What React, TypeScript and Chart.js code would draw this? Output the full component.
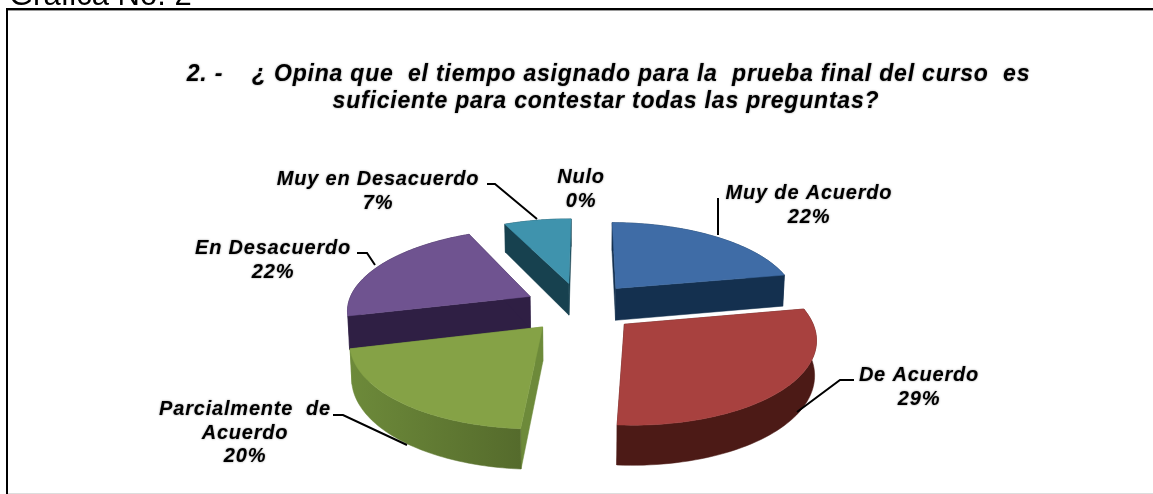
import React, { useEffect, useRef } from "react";
import { Chart, registerables } from "chart.js";

Chart.register(...registerables);

const categories = ["Muy de Acuerdo", "De Acuerdo", "Parcialmente de Acuerdo", "En Desacuerdo", "Muy en Desacuerdo", "Nulo"];
const percentages = [22, 29, 20, 22, 7, 0];
const topColors = ["#3f6ca6", "#a8413f", "#85a246", "#6f5390", "#3f93ad", "#3f93ad"];
const sideColors = ["#14304f", "#4c1a16", "#6d8a3a", "#2f1f44", "#17414f", "#17414f"];
const wallEndColors = ["#14304f", "#4c1a16", "#556b2c", "#2f1f44", "#17414f", "#17414f"];
const titleLines = [
  "2. -    ¿ Opina que  el tiempo asignado para la  prueba final del curso  es",
  "suficiente para contestar todas las preguntas?",
];
const caption = "Gráfica No. 2";
const labelLines = [["Muy de Acuerdo"], ["De Acuerdo"], ["Parcialmente  de", "Acuerdo"], ["En Desacuerdo"], ["Muy en Desacuerdo"], ["Nulo"]];
const labelAnchors = [[809, 192], [919, 374], [245, 408], [273, 247], [378, 178], [581, 176]];
const leaders = [
  [[718, 198], [718, 235]],
  [[854, 380], [840, 380], [797, 412]],
  [[333, 415], [343, 415], [407, 445]],
  [[357, 253], [367, 253], [375, 265]],
  [[487, 184], [495, 184], [537, 219]],
];
const FONT = '"Liberation Sans", Arial, sans-serif';
const TILT = 0.44;
const CAMERA = 6.8;
const DEPTH = 33;

const pie3d = {
  id: "pie3d",
  beforeDatasetDraw(chart: any) {
    const ctx = chart.ctx as CanvasRenderingContext2D;
    const arcs = chart.getDatasetMeta(0).data as any[];
    const parts = arcs.map((arc, i) => ({ arc, i, mid: (arc.startAngle + arc.endAngle) / 2 }));
    const R = arcs[0].outerRadius;
    const cx = arcs[0].x;
    const cy = arcs[0].y;
    const proj = (u: number, v: number, z: number) => {
      const s = CAMERA / (CAMERA - v / R);
      return [cx + u * s * (z ? 0.992 : 1), cy + TILT * v * s + z * s] as [number, number];
    };
    const poly = (pts: [number, number][], fill: any) => {
      ctx.beginPath();
      pts.forEach((p, k) => (k ? ctx.lineTo(p[0], p[1]) : ctx.moveTo(p[0], p[1])));
      ctx.closePath();
      ctx.fillStyle = fill;
      ctx.strokeStyle = fill;
      ctx.lineWidth = 0.5;
      ctx.fill();
      ctx.stroke();
    };
    parts
      .filter((p) => p.arc.circumference > 0)
      .sort((a, b) => Math.sin(a.mid) - Math.sin(b.mid))
      .forEach(({ arc, i, mid }) => {
        const off = arc.options.offset || 0;
        const ax = off * Math.cos(mid);
        const ay = off * Math.sin(mid);
        const rim = (a: number, z: number) => proj(ax + R * Math.cos(a), ay + R * Math.sin(a), z);
        const steps = 60;
        const angles: number[] = [];
        for (let k = 0; k <= steps; k++) angles.push(arc.startAngle + ((arc.endAngle - arc.startAngle) * k) / steps);
        const topRim = angles.map((a) => rim(a, 0));
        const lowRim = angles.map((a) => rim(a, DEPTH));
        const apexTop = proj(ax, ay, 0);
        const apexLow = proj(ax, ay, DEPTH);
        poly([apexTop, topRim[0], lowRim[0], apexLow], sideColors[i]);
        poly([apexTop, topRim[steps], lowRim[steps], apexLow], sideColors[i]);
        const xs = topRim.map((p) => p[0]);
        const grad = ctx.createLinearGradient(Math.min(...xs), 0, Math.max(...xs), 0);
        grad.addColorStop(0, i === 2 ? sideColors[i] : wallEndColors[i]);
        grad.addColorStop(1, wallEndColors[i]);
        poly([...topRim, ...lowRim.slice().reverse()], grad);
        poly([apexTop, ...topRim], arc.options.backgroundColor);
      });
    return false;
  },
};

const annotations = {
  id: "annotations",
  afterDraw(chart: any) {
    const ctx = chart.ctx as CanvasRenderingContext2D;
    ctx.save();
    ctx.fillStyle = "#9a9a9a";
    ctx.fillRect(8, 10, 1145, 1);
    ctx.fillStyle = "#000";
    ctx.fillRect(6, 8, 1147, 2);
    ctx.fillRect(6, 8, 2, 486);
    ctx.fillStyle = "#dddddd";
    ctx.fillRect(8, 493, 1145, 1);

    ctx.fillStyle = "#000";
    ctx.strokeStyle = "#000";
    ctx.textBaseline = "alphabetic";
    ctx.textAlign = "left";
    ctx.font = `31px ${FONT}`;
    ctx.fillText(caption, 9, 5);

    ctx.shadowColor = "rgba(0,0,0,0.45)";
    ctx.shadowBlur = 2;
    ctx.textAlign = "center";
    ctx.font = `italic bold 23px ${FONT}`;
    (ctx as any).letterSpacing = "0.8px";
    ctx.fillText(titleLines[0], 608.5, 81);
    ctx.fillText(titleLines[1], 606, 108);

    (ctx as any).letterSpacing = "0.8px";
    ctx.font = `italic bold 20px ${FONT}`;
    categories.forEach((_, i) => {
      const [x, y] = labelAnchors[i];
      const lines = [...labelLines[i], `${percentages[i]}%`];
      lines.forEach((line, k) => ctx.fillText(line, x, y + 7 + k * 23.5));
    });

    ctx.shadowBlur = 0;
    ctx.lineWidth = 2;
    leaders.forEach((path) => {
      ctx.beginPath();
      path.forEach((p, k) => (k ? ctx.lineTo(p[0], p[1]) : ctx.moveTo(p[0], p[1])));
      ctx.stroke();
    });
    ctx.restore();
  },
};

export default function App() {
  const ref = useRef<HTMLCanvasElement>(null);
  useEffect(() => {
    const chart = new Chart(ref.current!, {
      type: "pie",
      data: {
        labels: categories,
        datasets: [
          {
            data: percentages,
            backgroundColor: topColors,
            borderWidth: 0,
            offset: 57,
            hoverOffset: 0,
          } as any,
        ],
      },
      options: {
        responsive: false,
        animation: false,
        devicePixelRatio: 1,
        rotation: 0.3,
        radius: 183,
        layout: { padding: { left: 8, top: 120, right: 0, bottom: 0 } },
        plugins: { legend: { display: false }, tooltip: { enabled: false } },
        events: [],
      } as any,
      plugins: [pie3d, annotations],
    });
    return () => chart.destroy();
  }, []);
  return (
    <div style={{ position: "fixed", left: 0, top: 0, width: 1153, height: 494, background: "#fff", overflow: "hidden" }}>
      <canvas ref={ref} width={1153} height={494} style={{ display: "block", filter: "blur(0.45px)" }} />
    </div>
  );
}
